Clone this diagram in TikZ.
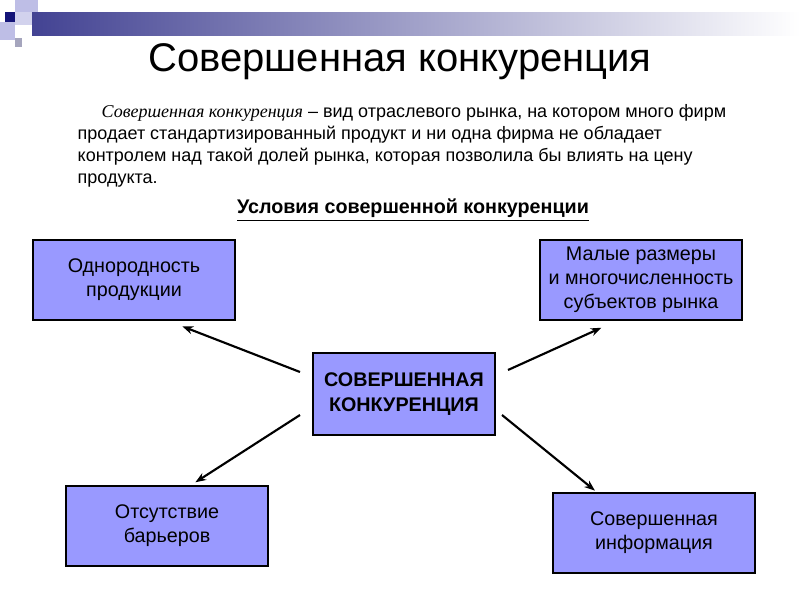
\documentclass[tikz,border=0pt]{standalone}
\usepackage{fontspec}
\setmainfont{Liberation Sans}
\newfontfamily\timesit{Liberation Serif}[ItalicFont=* Italic]
\usetikzlibrary{positioning,arrows.meta}
\definecolor{navy}{RGB}{20,20,120}
\definecolor{boxfill}{RGB}{153,153,255}
\definecolor{lav}{RGB}{190,190,230}
\tikzset{
  cond/.style={draw, line width=1.6pt, fill=boxfill, minimum width=151pt, minimum height=60pt, align=center, font=\fontsize{14.8}{18}\selectfont},
  arr/.style={-{Stealth[length=8pt, width=6pt]}, line width=1.6pt}
}
\begin{document}
\begin{tikzpicture}[x=0.75pt, y=-0.75pt]
\useasboundingbox (0,0) rectangle (800,600);
% top-left squares and bar
\shade[left color=navy!80, right color=white] (32,12) rectangle (800,35);
\fill[lav] (15,0) rectangle (38,12);
\fill[lav!70] (15,12) rectangle (32,25);
\fill[lav] (0,22) rectangle (15,40);
\fill[lav!60!gray] (15,38) rectangle (22,47);
\fill[navy] (5,12) rectangle (15,22);
% title and text
\node (title) at (400,62) {\fontsize{30}{34}\selectfont Совершенная конкуренция};
\node[anchor=north west, align=left, font=\fontsize{13.5}{16.5}\selectfont] (def) at (73,100)
  {\hspace*{18pt}{\timesit\itshape Совершенная конкуренция} – вид отраслевого рынка, на котором много фирм\\
   продает стандартизированный продукт и ни одна фирма не обладает\\
   контролем над такой долей рынка, которая позволила бы влиять на цену\\
   продукта.};
\node[font=\bfseries\fontsize{14.8}{17}\selectfont] (cond) at (413,210) {\underline{Условия совершенной конкуренции}};
% boxes
\node[cond] (odn) at (134,280) {Однородность\\ продукции};
\node[cond] (mal) at (641,280) {Малые размеры\\ и многочисленность\\ субъектов рынка};
\node[cond, minimum width=137pt, minimum height=61pt, font=\bfseries\fontsize{14.8}{19}\selectfont] (ctr) at (404,394) {СОВЕРШЕННАЯ\\ КОНКУРЕНЦИЯ};
\node[cond] (bar) at (167,526) {Отсутствие\\ барьеров};
\node[cond] (inf) at (654,533) {Совершенная\\ информация};
% arrows
\coordinate (t1) at (300,372);
\coordinate (t2) at (508,370);
\coordinate (t3) at (300,415);
\coordinate (t4) at (502,415);
\draw[arr] (t1) -- ([xshift=-40pt, yshift=-4pt]odn.south east);
\draw[arr] (t2) -- ([xshift=-106pt, yshift=-5pt]mal.south east);
\draw[arr] (t3) -- ([xshift=-55pt, yshift=2pt]bar.north east);
\draw[arr] (t4) -- ([xshift=32pt, yshift=1pt]inf.north west);
\end{tikzpicture}
\end{document}
